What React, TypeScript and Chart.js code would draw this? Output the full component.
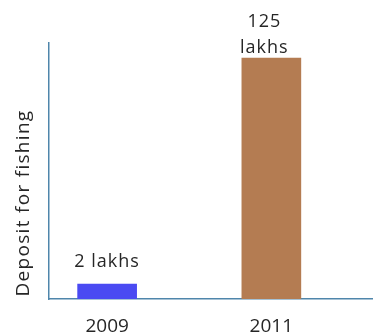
import React, { useEffect, useRef } from "react";
import { Chart, registerables } from "chart.js";

Chart.register(...registerables);

// ---- data ----
const years = ["2009", "2011"];
const depositLabels = [["2 lakhs"], ["125", "lakhs"]];
// bar heights as drawn in the picture (not to scale with the labels)
const barHeights = [7.8, 125];
const yAxisTitle = "Deposit for fishing";

// ---- style ----
const barColors = ["#4a4af2", "#b47c52"];
const axisColor = "#4f86ab";
const textColor = "#262626";
const fontFamily = "'Open Sans', 'Noto Sans', sans-serif";
const labelGap = [17, 5];
const labelDx = [0, -7];

const labelsPlugin = {
  id: "depositLabels",
  afterDatasetsDraw(chart: any) {
    const ctx = chart.ctx;
    const meta = chart.getDatasetMeta(0);
    ctx.save();
    ctx.fillStyle = textColor;
    ctx.font = `18px ${fontFamily}`;
    (ctx as any).letterSpacing = "1px";
    ctx.textAlign = "center";
    ctx.textBaseline = "alphabetic";
    meta.data.forEach((bar: any, i: number) => {
      const lines = depositLabels[i];
      const lineH = 26;
      lines.forEach((line, j) => {
        const y = bar.y - labelGap[i] - (lines.length - 1 - j) * lineH;
        ctx.fillText(line, bar.x + labelDx[i], y);
      });
    });
    // y axis title
    ctx.font = `19px ${fontFamily}`;
    (ctx as any).letterSpacing = "1.3px";
    ctx.translate(29, 203);
    ctx.rotate(-Math.PI / 2);
    ctx.textAlign = "center";
    ctx.textBaseline = "alphabetic";
    ctx.fillText(yAxisTitle, 0, 0);
    ctx.restore();
  },
};

export default function App() {
  const ref = useRef<HTMLCanvasElement | null>(null);
  useEffect(() => {
    if (!ref.current) return;
    const chart = new Chart(ref.current, {
      type: "bar",
      data: {
        datasets: [
          {
            data: barHeights.map((v, i) => ({ x: i, y: v })),
            backgroundColor: barColors,
            barThickness: 59,
          },
        ],
      },
      options: {
        animation: false,
        responsive: true,
        maintainAspectRatio: false,
        layout: { padding: { top: 43, left: 0, right: 0, bottom: 0 } },
        plugins: {
          legend: { display: false },
          tooltip: { enabled: false },
          title: { display: false },
        },
        scales: {
          x: {
            type: "linear",
            offset: false,
            min: -0.354,
            max: 1.619,
            afterBuildTicks: (s: any) => {
              s.ticks = years.map((_, i) => ({ value: i }));
            },
            afterFit: (s: any) => {
              s.height = 35;
            },
            grid: { display: false, drawTicks: false },
            border: { display: true, color: axisColor, width: 1.5 },
            ticks: {
              color: textColor,
              font: { family: fontFamily, size: 19 },
              padding: 16,
              maxRotation: 0,
              autoSkip: false,
              callback: (v: any) => years[Math.round(Number(v))] ?? "",
            },
          },
          y: {
            min: 0,
            max: 132.8,
            afterFit: (s: any) => {
              s.width = 49;
            },
            grid: { display: false, drawTicks: false },
            border: { display: true, color: axisColor, width: 1.5 },
            ticks: { display: false },
          },
        },
      },
      plugins: [labelsPlugin],
    });
    return () => chart.destroy();
  }, []);
  return (
    <div style={{ position: "fixed", left: 0, top: 0, width: 373, height: 334, background: "#fff" }}>
      <canvas ref={ref} />
    </div>
  );
}
